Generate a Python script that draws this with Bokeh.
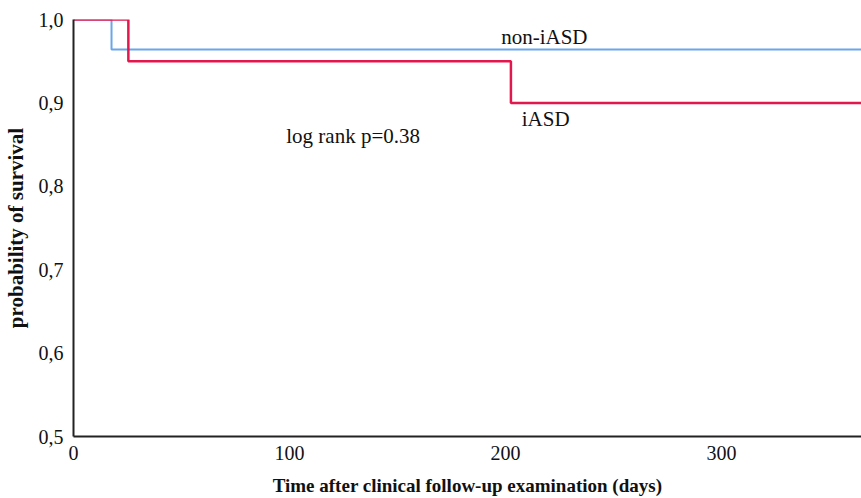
from bokeh.plotting import figure
from bokeh.models import Range1d, FixedTicker, CustomJSTickFormatter, Label
from bokeh.embed import file_html
from bokeh.resources import INLINE

# Kaplan-Meier step data
non_iasd_t = [0, 17.6, 365]
non_iasd_s = [1.0, 0.964, 0.964]
iasd_t = [0, 25.4, 202.5, 365]
iasd_s = [1.0, 0.95, 0.90, 0.90]

x_ticks = [0, 100, 200, 300]
y_ticks = [0.5, 0.6, 0.7, 0.8, 0.9, 1.0]

FONT = "'Liberation Serif', 'Times New Roman', serif"

p = figure(width=861, height=498, output_backend="svg", toolbar_location=None,
           x_range=Range1d(0, 364.8), y_range=Range1d(0.5, 1.0),
           min_border_left=72, min_border_right=0, min_border_top=19, min_border_bottom=62)
p.grid.visible = False
p.outline_line_color = None
p.background_fill_color = "white"

p.step(non_iasd_t, non_iasd_s, mode="after", line_color="#6aa6e8", line_width=2)
p.step(iasd_t, iasd_s, mode="after", line_color="#e2174d", line_width=2.5)

p.xaxis.ticker = FixedTicker(ticks=x_ticks)
p.yaxis.ticker = FixedTicker(ticks=y_ticks)
p.yaxis.formatter = CustomJSTickFormatter(code="return tick.toFixed(1).replace('.', ',');")

for ax in (p.xaxis[0], p.yaxis[0]):
    ax.axis_line_color = "#222222"
    ax.axis_line_width = 2
    ax.major_tick_line_color = None
    ax.minor_tick_line_color = None
    ax.major_label_text_font = FONT
    ax.major_label_text_font_size = "20px"
    ax.major_label_text_color = "#111111"
    ax.axis_label_text_font = FONT
    ax.axis_label_text_font_style = "bold"
    ax.axis_label_text_color = "#111111"

p.xaxis.axis_label = "Time after clinical follow-up examination (days)"
p.xaxis.axis_label_text_font_size = "19px"
p.yaxis.axis_label = "probability of survival"
p.yaxis.axis_label_text_font_size = "21px"
p.xaxis.major_label_standoff = 3
p.xaxis.axis_label_standoff = 12
p.yaxis.major_label_standoff = 4
p.yaxis.axis_label_standoff = 8

lab = dict(text_font=FONT, text_font_size="21px", text_color="#111111", text_baseline="middle")
p.add_layout(Label(x=198, y=0.979, text="non-iASD", **lab))
p.add_layout(Label(x=207.5, y=0.881, text="iASD", **lab))
p.add_layout(Label(x=98.5, y=0.86, text="log rank p=0.38", **lab))

open("out.html", "w").write(file_html(p, INLINE))
